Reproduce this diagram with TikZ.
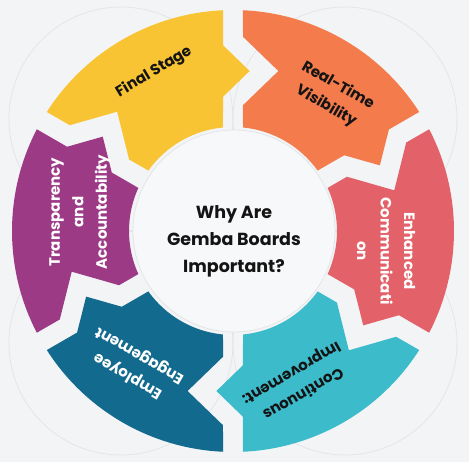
\documentclass[tikz,border=0pt]{standalone}
\usepackage{fontspec}
\setmainfont{Poppins}

\definecolor{bgcol}{HTML}{F3F4F6}
\definecolor{ghostcol}{HTML}{E3E5E9}
\definecolor{stageyellow}{HTML}{F9C433}
\definecolor{stageorange}{HTML}{F47B4B}
\definecolor{stagered}{HTML}{E3626A}
\definecolor{stagecyan}{HTML}{3CBCCB}
\definecolor{stageteal}{HTML}{126A8E}
\definecolor{stagepurple}{HTML}{9C3A86}
\definecolor{hubfill}{HTML}{F7F8FA}
\definecolor{inkcol}{HTML}{141414}

\tikzset{
  seglabel/.style={align=center,inner sep=0pt,font=\fontsize{15}{23.5}\selectfont\bfseries},
  hublabel/.style={align=center,inner sep=0pt,text=inkcol,font=\fontsize{17.5}{27}\selectfont\bfseries}
}

% one ring piece from angle #1 (ccw end, notch) to #1-60 (cw end, tip)
\newcommand{\ringseg}[2]{%
  \fill[#2] ({#1-2.59}:221) arc[start angle={#1-2.59}, end angle={#1-57.41}, radius=221]
    -- ({#1-56.92}:186.07) -- ({#1-65.92}:160.86) -- ({#1-55.74}:134.57)
    -- ({#1-54.48}:104) arc[start angle={#1-54.48}, end angle={#1-5.52}, radius=104]
    -- ({#1-4.54}:126.2) -- ({#1-15.84}:166.32) -- ({#1-2.95}:194.46) -- cycle;}

\begin{document}
\begin{tikzpicture}[x=1pt,y=1pt]
  \fill[bgcol] (-233,-231) rectangle (236,231);
  \useasboundingbox (-233,-231) rectangle (236,231);
  % faint guide circles behind the ring
  \foreach \gx/\gy in {-112/112,112/112,-112/-112,112/-112}
    \draw[ghostcol,line width=0.8] (\gx,\gy) circle[radius=112];
  % ring pieces, clockwise from top left
  \ringseg{150}{stageyellow}
  \ringseg{90}{stageorange}
  \ringseg{30}{stagered}
  \ringseg{-30}{stagecyan}
  \ringseg{-90}{stageteal}
  \ringseg{210}{stagepurple}
  % hub
  \node[circle,fill=hubfill,draw=ghostcol,line width=0.8,minimum size=202pt,inner sep=0pt] (hub) at (1,0) {};
  \node[hublabel] (hubtext) at (1,-10) {Why Are\\Gemba Boards\\Important?};
  % labels
  \node[seglabel,text=inkcol,rotate=31] (final) at (-79,159) {Final Stage};
  \node[seglabel,text=inkcol,rotate=-30] (realtime) at (99,135) {Real-Time\\Visibility};
  \node[seglabel,text=white,rotate=-90] (enhanced) at (153,-20) {Enhanced\\Communicati\\on};
  \node[seglabel,text=inkcol,rotate=-150] (continuous) at (64,-152) {Continuous\\Improvement:};
  \node[seglabel,text=white,rotate=150] (employee) at (-99,-134) {Employee\\Engagement};
  \node[seglabel,text=white,rotate=90] (transparency) at (-153,19) {Transparency\\and\\Accountability};
\end{tikzpicture}
\end{document}
